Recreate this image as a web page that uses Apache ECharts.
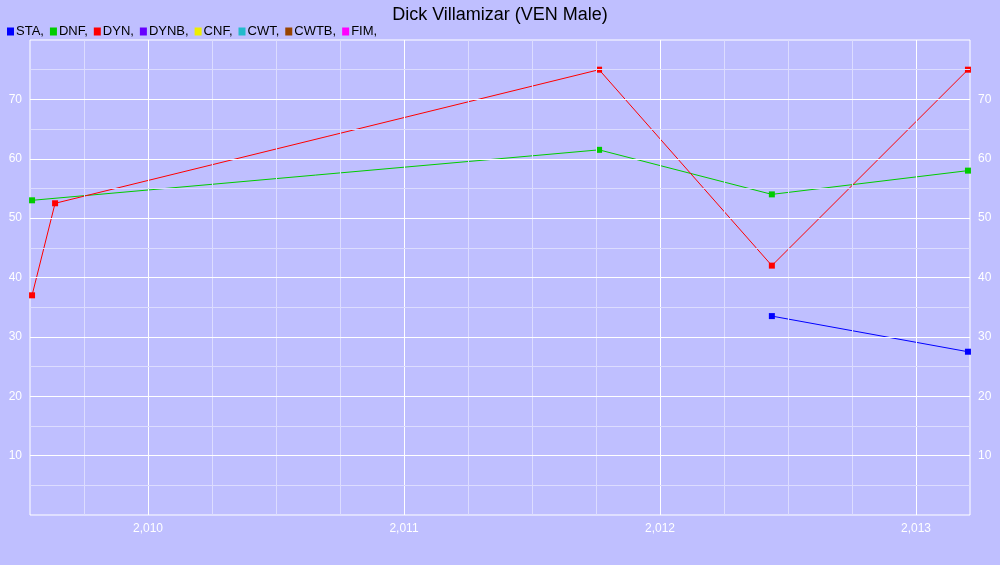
<!DOCTYPE html>
<html><head><meta charset="utf-8">
<script src="https://cdn.jsdelivr.net/npm/echarts@6/dist/echarts.min.js"></script>
<style>html,body{margin:0;padding:0;background:#bfbfff}#c{width:1000px;height:565px}</style>
</head><body><div id="c"></div>
<script>
const legendNames = ['STA','DNF','DYN','DYNB','CNF','CWT','CWTB','FIM'];
const legendColors = ['#0000ff','#00cc00','#ff0000','#6600ff','#eeee00','#22bbcc','#994400','#ff00ff'];
const staX = [2012.437, 2013.203];
const staY = [33.5, 27.5];
const dnfX = [2009.547, 2011.762, 2012.437, 2013.203];
const dnfY = [53, 61.5, 54, 58];
const dynX = [2009.547, 2009.637, 2011.762, 2012.437, 2013.203];
const dynY = [37, 52.5, 75, 42, 75];
const yearTicks = [2010, 2011, 2012, 2013];
const quarterTicks = [2009.75, 2010.25, 2010.5, 2010.75, 2011.25, 2011.5, 2011.75, 2012.25, 2012.5, 2012.75];
const yTicks = [10, 20, 30, 40, 50, 60, 70];
const yMinor = [5, 15, 25, 35, 45, 55, 65, 75];
const xMin = 2009.539, xMax = 2013.211;

const zip = (a, b) => a.map((v, i) => [v, b[i]]);
const mk = (name, color, data) => ({
  name, type: 'line', data, symbol: 'rect', symbolSize: 6, color,
  lineStyle: { width: 1, color }, itemStyle: { color }, animation: false
});
const series = [
  mk('STA', legendColors[0], zip(staX, staY)),
  mk('DNF', legendColors[1], zip(dnfX, dnfY)),
  mk('DYN', legendColors[2], zip(dynX, dynY)),
];
for (let i = 3; i < legendNames.length; i++) series.push(mk(legendNames[i], legendColors[i], []));
series.push({
  type: 'line', data: [], silent: true, animation: false, z: 0,
  markLine: {
    symbol: 'none', silent: true, label: { show: false }, animation: false,
    data: [
      ...quarterTicks.map(v => ({ xAxis: v, lineStyle: { color: '#dcdcff', width: 1, type: 'solid' } })),
      ...yearTicks.map(v => ({ xAxis: v, lineStyle: { color: '#ffffff', width: 1, type: 'solid' } })),
      ...yMinor.map(v => ({ yAxis: v, lineStyle: { color: '#dcdcff', width: 1, type: 'solid' } })),
      ...yTicks.map(v => ({ yAxis: v, lineStyle: { color: '#ffffff', width: 1, type: 'solid' } })),
    ]
  }
});
const yAx = (pos) => ({
  type: 'value', position: pos, min: 0, max: 80, interval: 10,
  axisLine: { show: false }, axisTick: { show: false }, splitLine: { show: false },
  axisLabel: { color: '#ffffff', fontSize: 12, fontFamily: 'Liberation Sans, Arial', formatter: v => (v === 0 || v === 80) ? '' : v }
});
const chart = echarts.init(document.getElementById('c'));
chart.setOption({
  backgroundColor: '#bfbfff',
  title: { text: 'Dick Villamizar (VEN Male)', left: 'center', top: 1, textStyle: { fontSize: 18, fontWeight: 'normal', color: '#000', fontFamily: 'Liberation Sans, Arial' } },
  legend: {
    data: legendNames, left: 2, top: 20, itemWidth: 7, itemHeight: 8, itemGap: 6, icon: 'rect',
    formatter: n => n + ',', textStyle: { fontSize: 13, color: '#000', fontFamily: 'Liberation Sans, Arial', padding: [0, 0, 0, -3] },
    selectedMode: false
  },
  grid: { left: 30, right: 30, top: 40, bottom: 50, show: true, borderColor: '#ffffff', borderWidth: 1 },
  xAxis: {
    type: 'value', min: xMin, max: xMax,
    axisLine: { show: false }, axisTick: { show: false }, splitLine: { show: false },
    axisLabel: { customValues: yearTicks, color: '#ffffff', fontSize: 12, fontFamily: 'Liberation Sans, Arial', margin: 8 }
  },
  yAxis: [yAx('left'), yAx('right')],
  series
});
</script></body></html>
